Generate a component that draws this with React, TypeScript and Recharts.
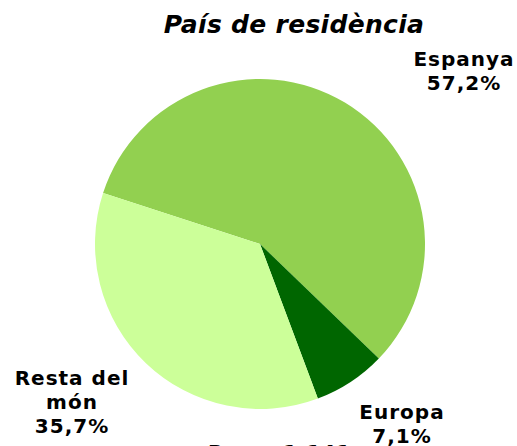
import React from 'react';
import { PieChart, Pie, Cell } from 'recharts';

// Slice data, clockwise from the Resta/Espanya boundary
const regions = ['Espanya', 'Europa', 'Resta del món'];
const shares = [57.2, 7.1, 35.7];
const sliceColors = ['#92D050', '#006600', '#CCFF99'];
// label lines as drawn in the reference
const labelLines = [['Espanya', '57,2%'], ['Europa', '7,1%'], ['Resta del', 'món', '35,7%']];
// label anchor offsets from the pie centre (layout only)
const labelOffsets = [
  { dx: 204, dy: -178 },
  { dx: 142, dy: 175 },
  { dx: -188, dy: 141 },
];

const data = regions.map((name, i) => ({ name, value: shares[i] }));

const CX = 260;
const CY = 244;
const R = 165;

const FONT = '"DejaVu Sans", Verdana, sans-serif';

const renderLabel = (props: any) => {
  const { cx, cy, index } = props;
  const off = labelOffsets[index];
  const lines = labelLines[index];
  return (
    <text
      x={cx + off.dx}
      y={cy + off.dy}
      textAnchor="middle"
      fill="#000"
      fontFamily={FONT}
      fontWeight="bold"
      fontSize={20}
      letterSpacing={1}
    >
      {lines.map((l, i) => (
        <tspan key={i} x={cx + off.dx} dy={i === 0 ? 0 : 24}>{l}</tspan>
      ))}
    </text>
  );
};

const App: React.FC = () => {
  return (
    <div style={{ position: 'absolute', left: 0, top: 0, width: 517, height: 446, background: '#fff', overflow: 'hidden' }}>
      <PieChart width={517} height={446} margin={{ top: 0, right: 0, bottom: 0, left: 0 }}>
        <text x={294} y={33} textAnchor="middle" fontFamily={FONT} fontWeight="bold" fontStyle="italic" fontSize={25} letterSpacing={0.3} fill="#000">
          País de residència
        </text>
        <Pie
          data={data}
          dataKey="value"
          nameKey="name"
          cx={CX}
          cy={CY}
          outerRadius={R}
          startAngle={162}
          endAngle={-198}
          stroke="none"
          label={renderLabel}
          labelLine={false}
          isAnimationActive={false}
        >
          {data.map((d, i) => (
            <Cell key={d.name} fill={sliceColors[i]} />
          ))}
        </Pie>
        <text x={208} y={459} fontFamily={FONT} fontWeight="bold" fontSize={20} letterSpacing={1} fill="#000">
          Base: 1.141
        </text>
      </PieChart>
    </div>
  );
};

export default App;
